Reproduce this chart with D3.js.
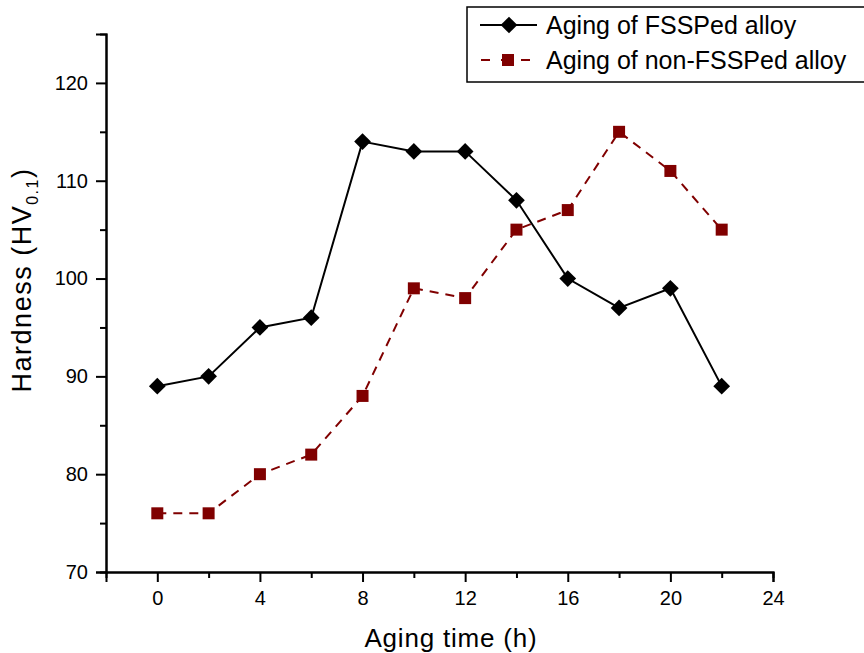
<!DOCTYPE html>
<html>
<head>
<meta charset="utf-8">
<script src="https://cdn.jsdelivr.net/npm/d3@7"></script>
<style>
  html, body { margin: 0; padding: 0; background: #fff; }
  svg { display: block; font-family: "Liberation Sans", Arial, sans-serif; }
</style>
</head>
<body>
<svg id="chart" width="864" height="653"></svg>
<script>
// Aging time (h) and hardness (HV0.1) for both alloys
const agingTime = [0, 2, 4, 6, 8, 10, 12, 14, 16, 18, 20, 22];
const hardnessFSSPed = [89, 90, 95, 96, 114, 113, 113, 108, 100, 97, 99, 89];
const hardnessNonFSSPed = [76, 76, 80, 82, 88, 99, 98, 105, 107, 115, 111, 105];
const xTickValues = [0, 4, 8, 12, 16, 20, 24];
const xMinorValues = [2, 6, 10, 14, 18, 22];
const yTickValues = [70, 80, 90, 100, 110, 120];
const yMinorValues = [75, 85, 95, 105, 115];
const seriesNames = ["Aging of FSSPed alloy", "Aging of non-FSSPed alloy"];

const svg = d3.select("#chart");
const plotLeft = 106, plotRight = 773, plotTop = 34, plotBottom = 572;

const x = d3.scaleLinear().domain([-2, 24]).range([plotLeft, plotRight]);
const y = d3.scaleLinear().domain([70, 125]).range([plotBottom, plotTop]);

const darkRed = "#800000";

// Axes: labelled major ticks plus shorter minor ticks, all pointing outward
const xAxis = d3.axisBottom(x).tickValues(xTickValues).tickSize(10).tickPadding(9).tickFormat(d3.format("d"));
const xMinor = d3.axisBottom(x).tickValues(xMinorValues).tickSize(6).tickFormat("");
const yAxis = d3.axisLeft(y).tickValues(yTickValues).tickSize(10).tickPadding(8).tickFormat(d3.format("d"));
const yMinor = d3.axisLeft(y).tickValues(yMinorValues).tickSize(6).tickFormat("");

function styleAxis(g) {
  g.select(".domain").attr("stroke", "#000").attr("stroke-width", 2);
  g.selectAll(".tick line").attr("stroke", "#000").attr("stroke-width", 2);
  g.selectAll(".tick text").attr("fill", "#000").style("font-size", "20px")
    .style("font-family", "'Liberation Sans', Arial, sans-serif");
}

svg.append("g").attr("transform", `translate(0,${plotBottom})`).call(xMinor).call(styleAxis);
svg.append("g").attr("transform", `translate(0,${plotBottom})`).call(xAxis).call(styleAxis);
svg.append("g").attr("transform", `translate(${plotLeft},0)`).call(yMinor).call(styleAxis);
svg.append("g").attr("transform", `translate(${plotLeft},0)`).call(yAxis).call(styleAxis);

// Axis titles
svg.append("text")
  .attr("x", 451).attr("y", 647)
  .attr("text-anchor", "middle").style("font-size", "26px").style("letter-spacing", "0.8px")
  .attr("fill", "#000")
  .text("Aging time (h)");

const yTitle = svg.append("text")
  .attr("transform", "translate(31,280) rotate(-90)")
  .attr("text-anchor", "middle").style("font-size", "27px").style("letter-spacing", "1.5px")
  .attr("fill", "#000");
yTitle.append("tspan").text("Hardness (HV");
yTitle.append("tspan").attr("dy", 7).style("font-size", "16px").text("0.1");
yTitle.append("tspan").attr("dy", -7).text(")");

// Series lines and markers
const line = d3.line().x(d => x(d[0])).y(d => y(d[1]));
const dataA = agingTime.map((t, i) => [t, hardnessFSSPed[i]]);
const dataB = agingTime.map((t, i) => [t, hardnessNonFSSPed[i]]);

svg.append("path").datum(dataB).attr("d", line)
  .attr("fill", "none").attr("stroke", darkRed).attr("stroke-width", 2)
  .attr("stroke-dasharray", "9,7");
svg.append("path").datum(dataA).attr("d", line)
  .attr("fill", "none").attr("stroke", "#000").attr("stroke-width", 2);

const diamond = d3.symbol().type(d3.symbolSquare).size(140);
const square = d3.symbol().type(d3.symbolSquare).size(144);

svg.append("g").selectAll("path").data(dataB).join("path")
  .attr("d", square).attr("transform", d => `translate(${x(d[0])},${y(d[1])})`)
  .attr("fill", darkRed);
svg.append("g").selectAll("path").data(dataA).join("path")
  .attr("d", diamond).attr("transform", d => `translate(${x(d[0])},${y(d[1])}) rotate(45)`)
  .attr("fill", "#000");

// Legend
const lg = svg.append("g");
lg.append("rect").attr("x", 467).attr("y", 7).attr("width", 420).attr("height", 75)
  .attr("fill", "#fff").attr("stroke", "#000").attr("stroke-width", 1.5);

lg.append("line").attr("x1", 480).attr("x2", 537).attr("y1", 25).attr("y2", 25)
  .attr("stroke", "#000").attr("stroke-width", 2);
lg.append("path").attr("d", diamond).attr("transform", "translate(509,25) rotate(45)").attr("fill", "#000");
lg.append("text").attr("x", 546).attr("y", 34).style("font-size", "25px").attr("fill", "#000").text(seriesNames[0]);

lg.append("line").attr("x1", 481).attr("x2", 538).attr("y1", 60).attr("y2", 60)
  .attr("stroke", darkRed).attr("stroke-width", 2).attr("stroke-dasharray", "9,11");
lg.append("path").attr("d", square).attr("transform", "translate(508,60)").attr("fill", darkRed);
lg.append("text").attr("x", 546).attr("y", 69).style("font-size", "25px").attr("fill", "#000").text(seriesNames[1]);
</script>
</body>
</html>
